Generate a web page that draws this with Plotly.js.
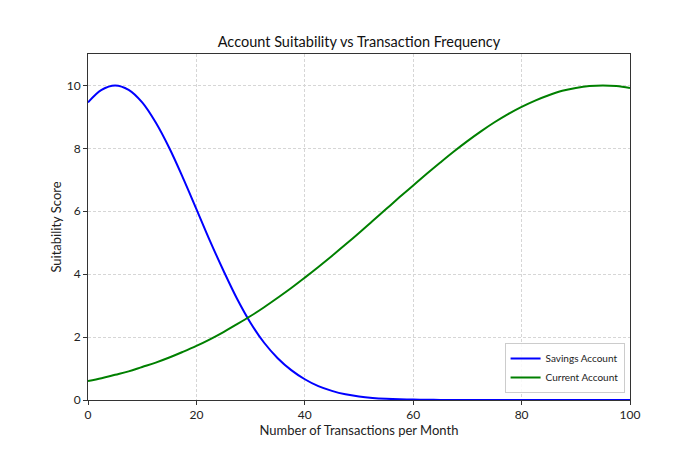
<!DOCTYPE html>
<html>
<head>
<meta charset="utf-8">
<script src="https://cdn.plot.ly/plotly-3.0.1.min.js"></script>
<style>
  body { margin: 0; background: #fff; }
  #chart { width: 700px; height: 450px; }
</style>
</head>
<body>
<div id="chart"></div>
<script>
  var transactions = [0, 2.5, 5, 7.5, 10, 12.5, 15, 17.5, 20, 22.5, 25, 27.5, 30, 32.5, 35, 37.5, 40,
    42.5, 45, 47.5, 50, 52.5, 55, 57.5, 60, 62.5, 65, 67.5, 70, 72.5, 75, 77.5, 80, 82.5, 85, 87.5,
    90, 92.5, 95, 97.5, 100];

  var savingsScore = [9.46, 9.86, 10, 9.86, 9.46, 8.82, 8.01, 7.07, 6.07, 5.06, 4.11, 3.22, 2.45,
    1.82, 1.33, 0.95, 0.66, 0.44, 0.29, 0.18, 0.11, 0.066, 0.039, 0.022, 0.012, 0.006, 0.003, 0.001,
    0, 0, 0, 0, 0, 0, 0, 0, 0, 0, 0, 0, 0];

  var currentScore = [0.60, 0.69, 0.80, 0.91, 1.05, 1.19, 1.35, 1.53, 1.72, 1.93, 2.16, 2.41, 2.67,
    2.95, 3.25, 3.56, 3.89, 4.23, 4.58, 4.94, 5.31, 5.69, 6.07, 6.45, 6.82, 7.19, 7.55, 7.90, 8.23,
    8.54, 8.83, 9.09, 9.32, 9.52, 9.69, 9.83, 9.92, 9.98, 10, 9.98, 9.92];

  var seriesNames = ['Savings Account', 'Current Account'];

  var font = 'Lato, "Open Sans", sans-serif';

  var data = [
    {
      x: transactions, y: savingsScore, mode: 'lines', name: seriesNames[0],
      line: {color: '#0000ff', width: 2, shape: 'spline'}
    },
    {
      x: transactions, y: currentScore, mode: 'lines', name: seriesNames[1],
      line: {color: '#008000', width: 2, shape: 'spline'}
    }
  ];

  var axisStyle = {
    showline: true, mirror: true, linecolor: '#333', linewidth: 1,
    ticks: 'outside', ticklen: 4, tickcolor: '#333',
    showgrid: true, gridcolor: '#d6d6d6', griddash: '3px,2px', gridwidth: 1,
    zeroline: false, tickfont: {size: 12, color: '#222'}
  };

  var layout = {
    width: 700, height: 450,
    margin: {l: 88, r: 70, t: 54, b: 50},
    paper_bgcolor: '#fff', plot_bgcolor: '#fff',
    font: {family: font, color: '#222'},
    title: {text: 'Account Suitability vs Transaction Frequency', font: {size: 14.5, color: '#111'},
            xref: 'paper', x: 0.5, xanchor: 'center', yref: 'container', y: 0.895, yanchor: 'bottom'},
    xaxis: Object.assign({}, axisStyle, {
      range: [0, 100], dtick: 20,
      title: {text: 'Number of Transactions per Month', font: {size: 13}, standoff: 4}
    }),
    yaxis: Object.assign({}, axisStyle, {
      range: [0, 11], tickvals: [0, 2, 4, 6, 8, 10],
      title: {text: 'Suitability Score', font: {size: 13}, standoff: 2}
    }),
    showlegend: true,
    legend: {
      x: 0.99, y: 0.02, xanchor: 'right', yanchor: 'bottom',
      bgcolor: 'rgba(255,255,255,0.85)', bordercolor: '#ccc', borderwidth: 1,
      font: {size: 10}, tracegroupgap: 0, itemwidth: 30
    }
  };

  Plotly.newPlot('chart', data, layout, {displayModeBar: false, staticPlot: true});
</script>
</body>
</html>
